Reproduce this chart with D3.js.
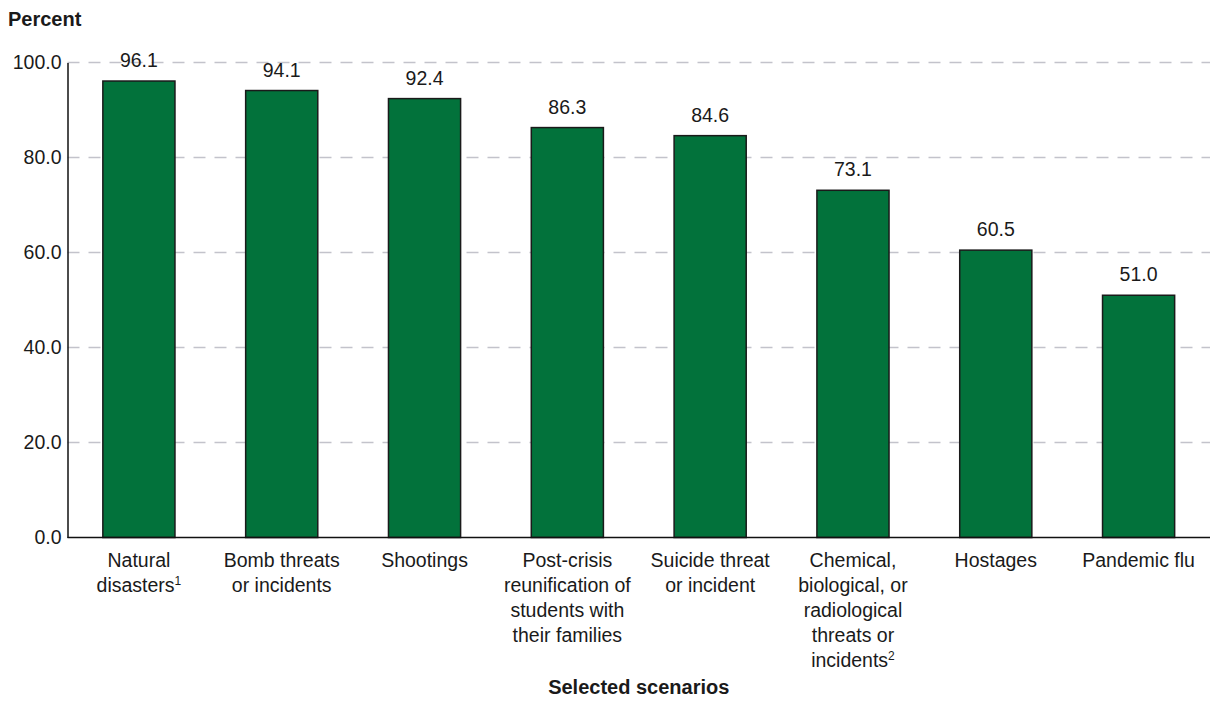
<!DOCTYPE html>
<html><head><meta charset="utf-8">
<script src="https://cdn.jsdelivr.net/npm/d3@7"></script>
<style>
body{margin:0;background:#fff;}
text{font-family:"Liberation Sans",Arial,sans-serif;fill:#1a1a1a;}
</style></head>
<body><svg id="chart" width="1211" height="701"></svg>
<script>
const categories = [
  ["Natural", "disasters"],
  ["Bomb threats", "or incidents"],
  ["Shootings"],
  ["Post-crisis", "reunification of", "students with", "their families"],
  ["Suicide threat", "or incident"],
  ["Chemical,", "biological, or", "radiological", "threats or", "incidents"],
  ["Hostages"],
  ["Pandemic flu"]
];
const footnotes = ["1", "", "", "", "", "2", "", ""];
const values = [96.1, 94.1, 92.4, 86.3, 84.6, 73.1, 60.5, 51.0];
const yTicks = [0, 20, 40, 60, 80, 100];
const yLabel = "Percent";
const xLabel = "Selected scenarios";

(function () {
const svg = d3.select("#chart");
const mLeft = 67.5, mRight = 1210, mTop = 62.5, mBottom = 537.5;
const ids = d3.range(values.length);
const x = d3.scaleBand().domain(ids).range([mLeft, mRight]).paddingInner(0.495).paddingOuter(0.2475);
const y = d3.scaleLinear().domain([0, 100]).range([mBottom, mTop]);

// gridlines
svg.append("g").selectAll("line").data(yTicks.filter(d => d > 0)).join("line")
  .attr("x1", mLeft).attr("x2", mRight)
  .attr("y1", d => y(d)).attr("y2", d => y(d))
  .attr("stroke", "#c3c3cb").attr("stroke-width", 1.3).attr("stroke-dasharray", "12,9");

// y axis
const yAxis = d3.axisLeft(y).tickValues(yTicks).tickFormat(d3.format(".1f")).tickSize(0).tickPadding(6);
const gy = svg.append("g").attr("transform", `translate(${mLeft},0)`).call(yAxis);
gy.select(".domain").attr("stroke", "#111").attr("stroke-width", 1.5);
gy.selectAll("text").style("font-size", "19.5px").attr("fill", "#1a1a1a")
  .style("font-family", "'Liberation Sans',Arial,sans-serif");

// bars
svg.append("g").selectAll("rect").data(values).join("rect")
  .attr("x", (d, i) => x(i)).attr("width", x.bandwidth())
  .attr("y", d => y(d)).attr("height", d => y(0) - y(d))
  .attr("fill", "#02723b").attr("stroke", "#1a1a1a").attr("stroke-width", 1.5);

// baseline
svg.append("line").attr("x1", mLeft).attr("x2", mRight).attr("y1", mBottom).attr("y2", mBottom)
  .attr("stroke", "#111").attr("stroke-width", 1.5);

// value labels
svg.append("g").selectAll("text").data(values).join("text")
  .attr("x", (d, i) => x(i) + x.bandwidth() / 2).attr("y", d => y(d) - 14)
  .attr("text-anchor", "middle").style("font-size", "19.5px")
  .text(d => d.toFixed(1));

// category labels
const cg = svg.append("g").selectAll("text").data(categories).join("text")
  .attr("text-anchor", "middle").style("font-size", "19.5px")
  .attr("x", (d, i) => x(i) + x.bandwidth() / 2).attr("y", 567);
cg.each(function(lines, i) {
  const t = d3.select(this);
  const cx = x(i) + x.bandwidth() / 2;
  lines.forEach((ln, j) => {
    const ts = t.append("tspan").attr("x", cx).attr("y", 567 + j * 25).text(ln);
    if (j === lines.length - 1 && footnotes[i]) {
      t.append("tspan").attr("dy", -7).style("font-size", "12px").text(footnotes[i]);
    }
  });
});

// axis titles
svg.append("text").attr("x", 8).attr("y", 26).style("font-size", "20px").style("font-weight", "bold").text(yLabel);
svg.append("text").attr("x", (mLeft + mRight) / 2).attr("y", 694).attr("text-anchor", "middle")
  .style("font-size", "20px").style("font-weight", "bold").text(xLabel);
})();
</script></body></html>
